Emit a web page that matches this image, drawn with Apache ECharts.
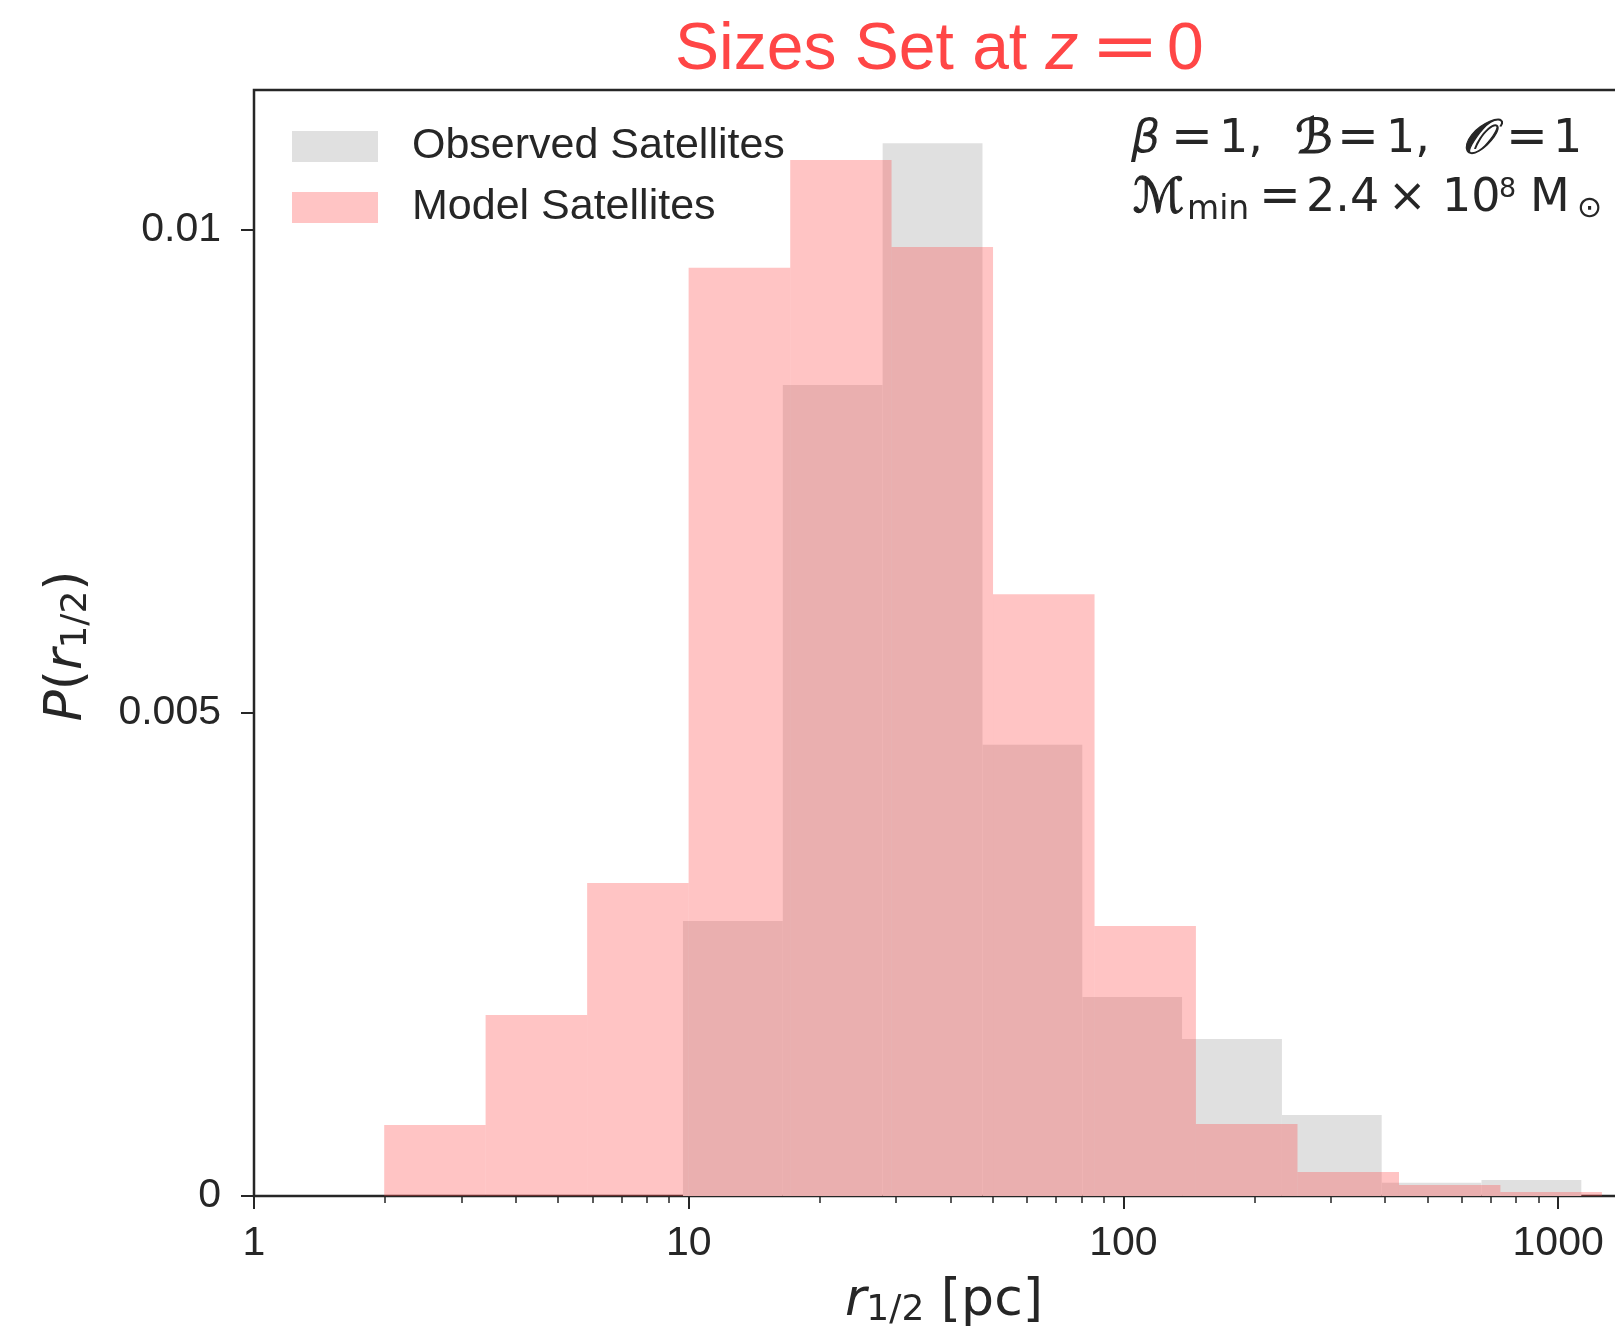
<!DOCTYPE html>
<html>
<head>
<meta charset="utf-8">
<script src="https://cdn.jsdelivr.net/npm/echarts@6/dist/echarts.min.js"></script>
<style>
  html, body { margin: 0; padding: 0; background: #ffffff; }
  #chart { width: 1615px; height: 1329px; }
</style>
</head>
<body>
<div id="chart"></div>
<script>
// Half-light radius histograms: bin edges in pc, probability density per bin
const observedEdges = [9.70, 16.46, 27.93, 47.40, 80.42, 136.4, 231.5, 392.7, 666.3, 1130.6];
const observedDensity = [0.002847, 0.008395, 0.01090, 0.004672, 0.00206, 0.001625, 0.000839, 0.000138, 0.000166];

const modelEdges = [1.993, 3.410, 5.839, 9.995, 17.12, 29.28, 50.12, 85.81, 146.8, 251.4, 430.4, 736.5, 1261];
const modelDensity = [0.000735, 0.001874, 0.00324, 0.00961, 0.010725, 0.009824, 0.006229, 0.002795, 0.000745, 0.000248, 0.000114, 0.0000414];

const xMajorTicks = [1, 10, 100, 1000];
const xMinorTicks = [2, 3, 4, 5, 6, 7, 8, 9, 20, 30, 40, 50, 60, 70, 80, 90, 200, 300, 400, 500, 600, 700, 800, 900];
const yTicks = [0, 0.005, 0.01];

const seriesNames = ['Observed Satellites', 'Model Satellites'];

const INK = '#262626';
const RED = '#ff4646';
const SANS = 'Liberation Sans';
const MATH = 'DejaVu Sans';

function binRows(edges, density) {
  return density.map((d, i) => [edges[i], edges[i + 1], d]);
}

// one filled rectangle per histogram bin, positioned by the axes
function renderBin(params, api) {
  const topLeft = api.coord([api.value(0), api.value(2)]);
  const bottomRight = api.coord([api.value(1), 0]);
  return {
    type: 'rect',
    shape: {
      x: topLeft[0],
      y: topLeft[1],
      width: bottomRight[0] - topLeft[0],
      height: bottomRight[1] - topLeft[1]
    },
    style: { fill: api.visual('color') }
  };
}

// math-style annotation: each piece gets its own rich style with a fixed advance
const mathKinds = {
  n:   { fontFamily: MATH, fontSize: 46, fill: INK },
  eq:  { fontFamily: MATH, fontSize: 50, fill: INK },
  i:   { fontFamily: MATH, fontSize: 46, fontStyle: 'italic', fill: INK },
  c:   { fontFamily: MATH, fontSize: 48, fontStyle: 'italic', fill: INK, stroke: INK, lineWidth: 1.2 },
  sub: { fontFamily: MATH, fontSize: 33, padding: [22, 0, 0, 0], fill: INK },
  sup: { fontFamily: MATH, fontSize: 27, padding: [0, 0, 20, 0], fill: INK },
  sun: { fontFamily: MATH, fontSize: 30, padding: [20, 0, 0, 0], fill: INK }
};

function mathLine(pieces, y) {
  const rich = {};
  let text = '';
  pieces.forEach((p, k) => {
    const style = Object.assign({}, mathKinds[p[1]]);
    if (k < pieces.length - 1) style.width = pieces[k + 1][2] - p[2];
    rich['t' + k] = style;
    text += '{t' + k + '|' + p[0] + '}';
  });
  return {
    type: 'text', x: pieces[0][2], y: y,
    style: { text: text, rich: rich, align: 'left', verticalAlign: 'middle', fill: INK }
  };
}

const paramLine = [
  ['β', 'i', 1131], ['=', 'eq', 1171], ['1,', 'n', 1219],
  ['ℬ', 'c', 1295], ['=', 'eq', 1337], ['1,', 'n', 1386],
  ['𝒪', 'c', 1462], ['=', 'eq', 1506], ['1', 'n', 1553]
];
const massLine = [
  ['ℳ', 'c', 1133], ['min', 'sub', 1187], ['=', 'eq', 1259], ['2.4', 'n', 1306],
  ['×', 'n', 1388], ['10', 'n', 1442], ['8', 'sup', 1499], ['M', 'n', 1530], ['⊙', 'sun', 1577]
];

const X_MAX = 1395;

const chart = echarts.init(document.getElementById('chart'), null, { renderer: 'canvas' });

chart.setOption({
  animation: false,
  backgroundColor: '#ffffff',
  grid: {
    left: 254, top: 90, right: -6, bottom: 133,
    show: true, borderColor: INK, borderWidth: 2.5, backgroundColor: 'transparent',
    containLabel: false, outerBoundsMode: 'none'
  },
  legend: {
    orient: 'vertical', left: 292, top: 125, padding: 0,
    itemWidth: 86, itemHeight: 31, itemGap: 18, icon: 'rect', selectedMode: false,
    data: seriesNames,
    textStyle: { fontFamily: SANS, fontSize: 43, color: INK, padding: [16, 0, 0, 29] }
  },
  xAxis: [
    {
      type: 'log', logBase: 10, min: 1, max: X_MAX, gridIndex: 0, position: 'bottom',
      axisLine: { show: false },
      axisTick: { show: true, customValues: xMajorTicks, length: 13, lineStyle: { color: INK, width: 2 } },
      axisLabel: {
        customValues: xMajorTicks, formatter: v => String(Math.round(v)),
        fontFamily: SANS, fontSize: 41, color: INK, margin: 27
      },
      splitLine: { show: false }
    },
    {
      type: 'log', logBase: 10, min: 1, max: X_MAX, gridIndex: 0, position: 'bottom',
      axisLine: { show: false },
      axisTick: { show: true, customValues: xMinorTicks, length: 7, lineStyle: { color: INK, width: 1.5 } },
      axisLabel: { show: false },
      splitLine: { show: false }
    }
  ],
  yAxis: {
    type: 'value', min: 0, max: 0.01145,
    axisLine: { show: false },
    axisTick: { show: true, customValues: yTicks, length: 13, lineStyle: { color: INK, width: 2 } },
    axisLabel: {
      customValues: yTicks, formatter: v => String(v),
      fontFamily: SANS, fontSize: 41, color: INK, margin: 33
    },
    splitLine: { show: false }
  },
  series: [
    {
      name: seriesNames[0], type: 'custom', xAxisIndex: 0, yAxisIndex: 0,
      itemStyle: { color: '#e0e0e0' },
      encode: { x: [0, 1], y: 2 },
      renderItem: renderBin,
      data: binRows(observedEdges, observedDensity)
    },
    {
      name: seriesNames[1], type: 'custom', xAxisIndex: 0, yAxisIndex: 0,
      itemStyle: { color: 'rgba(255, 70, 70, 0.32)' },
      encode: { x: [0, 1], y: 2 },
      renderItem: renderBin,
      data: binRows(modelEdges, modelDensity)
    }
  ],
  graphic: [
    // title: "Sizes Set at z = 0" with a math-style equals sign
    {
      type: 'text', x: 675, y: 51,
      style: {
        text: '{a|Sizes Set at }{b|z}',
        align: 'left', verticalAlign: 'middle', fill: RED,
        rich: {
          a: { fontFamily: SANS, fontSize: 66, fill: RED },
          b: { fontFamily: SANS, fontSize: 66, fontStyle: 'italic', fill: RED }
        }
      }
    },
    {
      type: 'text', x: 1125, y: 51, scaleX: 1.25,
      style: { text: '=', fontFamily: MATH, fontSize: 66, fill: RED, align: 'center', verticalAlign: 'middle' }
    },
    {
      type: 'text', x: 1167, y: 51,
      style: { text: '0', fontFamily: SANS, fontSize: 66, fill: RED, align: 'left', verticalAlign: 'middle' }
    },
    mathLine(paramLine, 140.5),
    mathLine(massLine, 199.5),
    {
      type: 'text', x: 944, y: 1301,
      style: {
        text: '{i|r}{s|1/2}{n| [pc]}',
        align: 'center', verticalAlign: 'middle', fill: INK,
        rich: {
          n: { fontFamily: MATH, fontSize: 52, lineHeight: 58, fill: INK },
          i: { fontFamily: MATH, fontSize: 52, lineHeight: 58, fontStyle: 'italic', fill: INK },
          s: { fontFamily: MATH, fontSize: 36, lineHeight: 36, padding: [20, 0, 0, 0], fill: INK }
        }
      }
    },
    {
      type: 'text', x: 67, y: 646, rotation: Math.PI / 2,
      style: {
        text: '{i|P}{n|(}{i|r}{s|1/2}{n|)}',
        align: 'center', verticalAlign: 'middle', fill: INK,
        rich: {
          n: { fontFamily: MATH, fontSize: 52, lineHeight: 58, fill: INK },
          i: { fontFamily: MATH, fontSize: 52, lineHeight: 58, fontStyle: 'italic', fill: INK },
          s: { fontFamily: MATH, fontSize: 36, lineHeight: 36, padding: [20, 0, 0, 0], fill: INK }
        }
      }
    }
  ]
});
</script>
</body>
</html>
